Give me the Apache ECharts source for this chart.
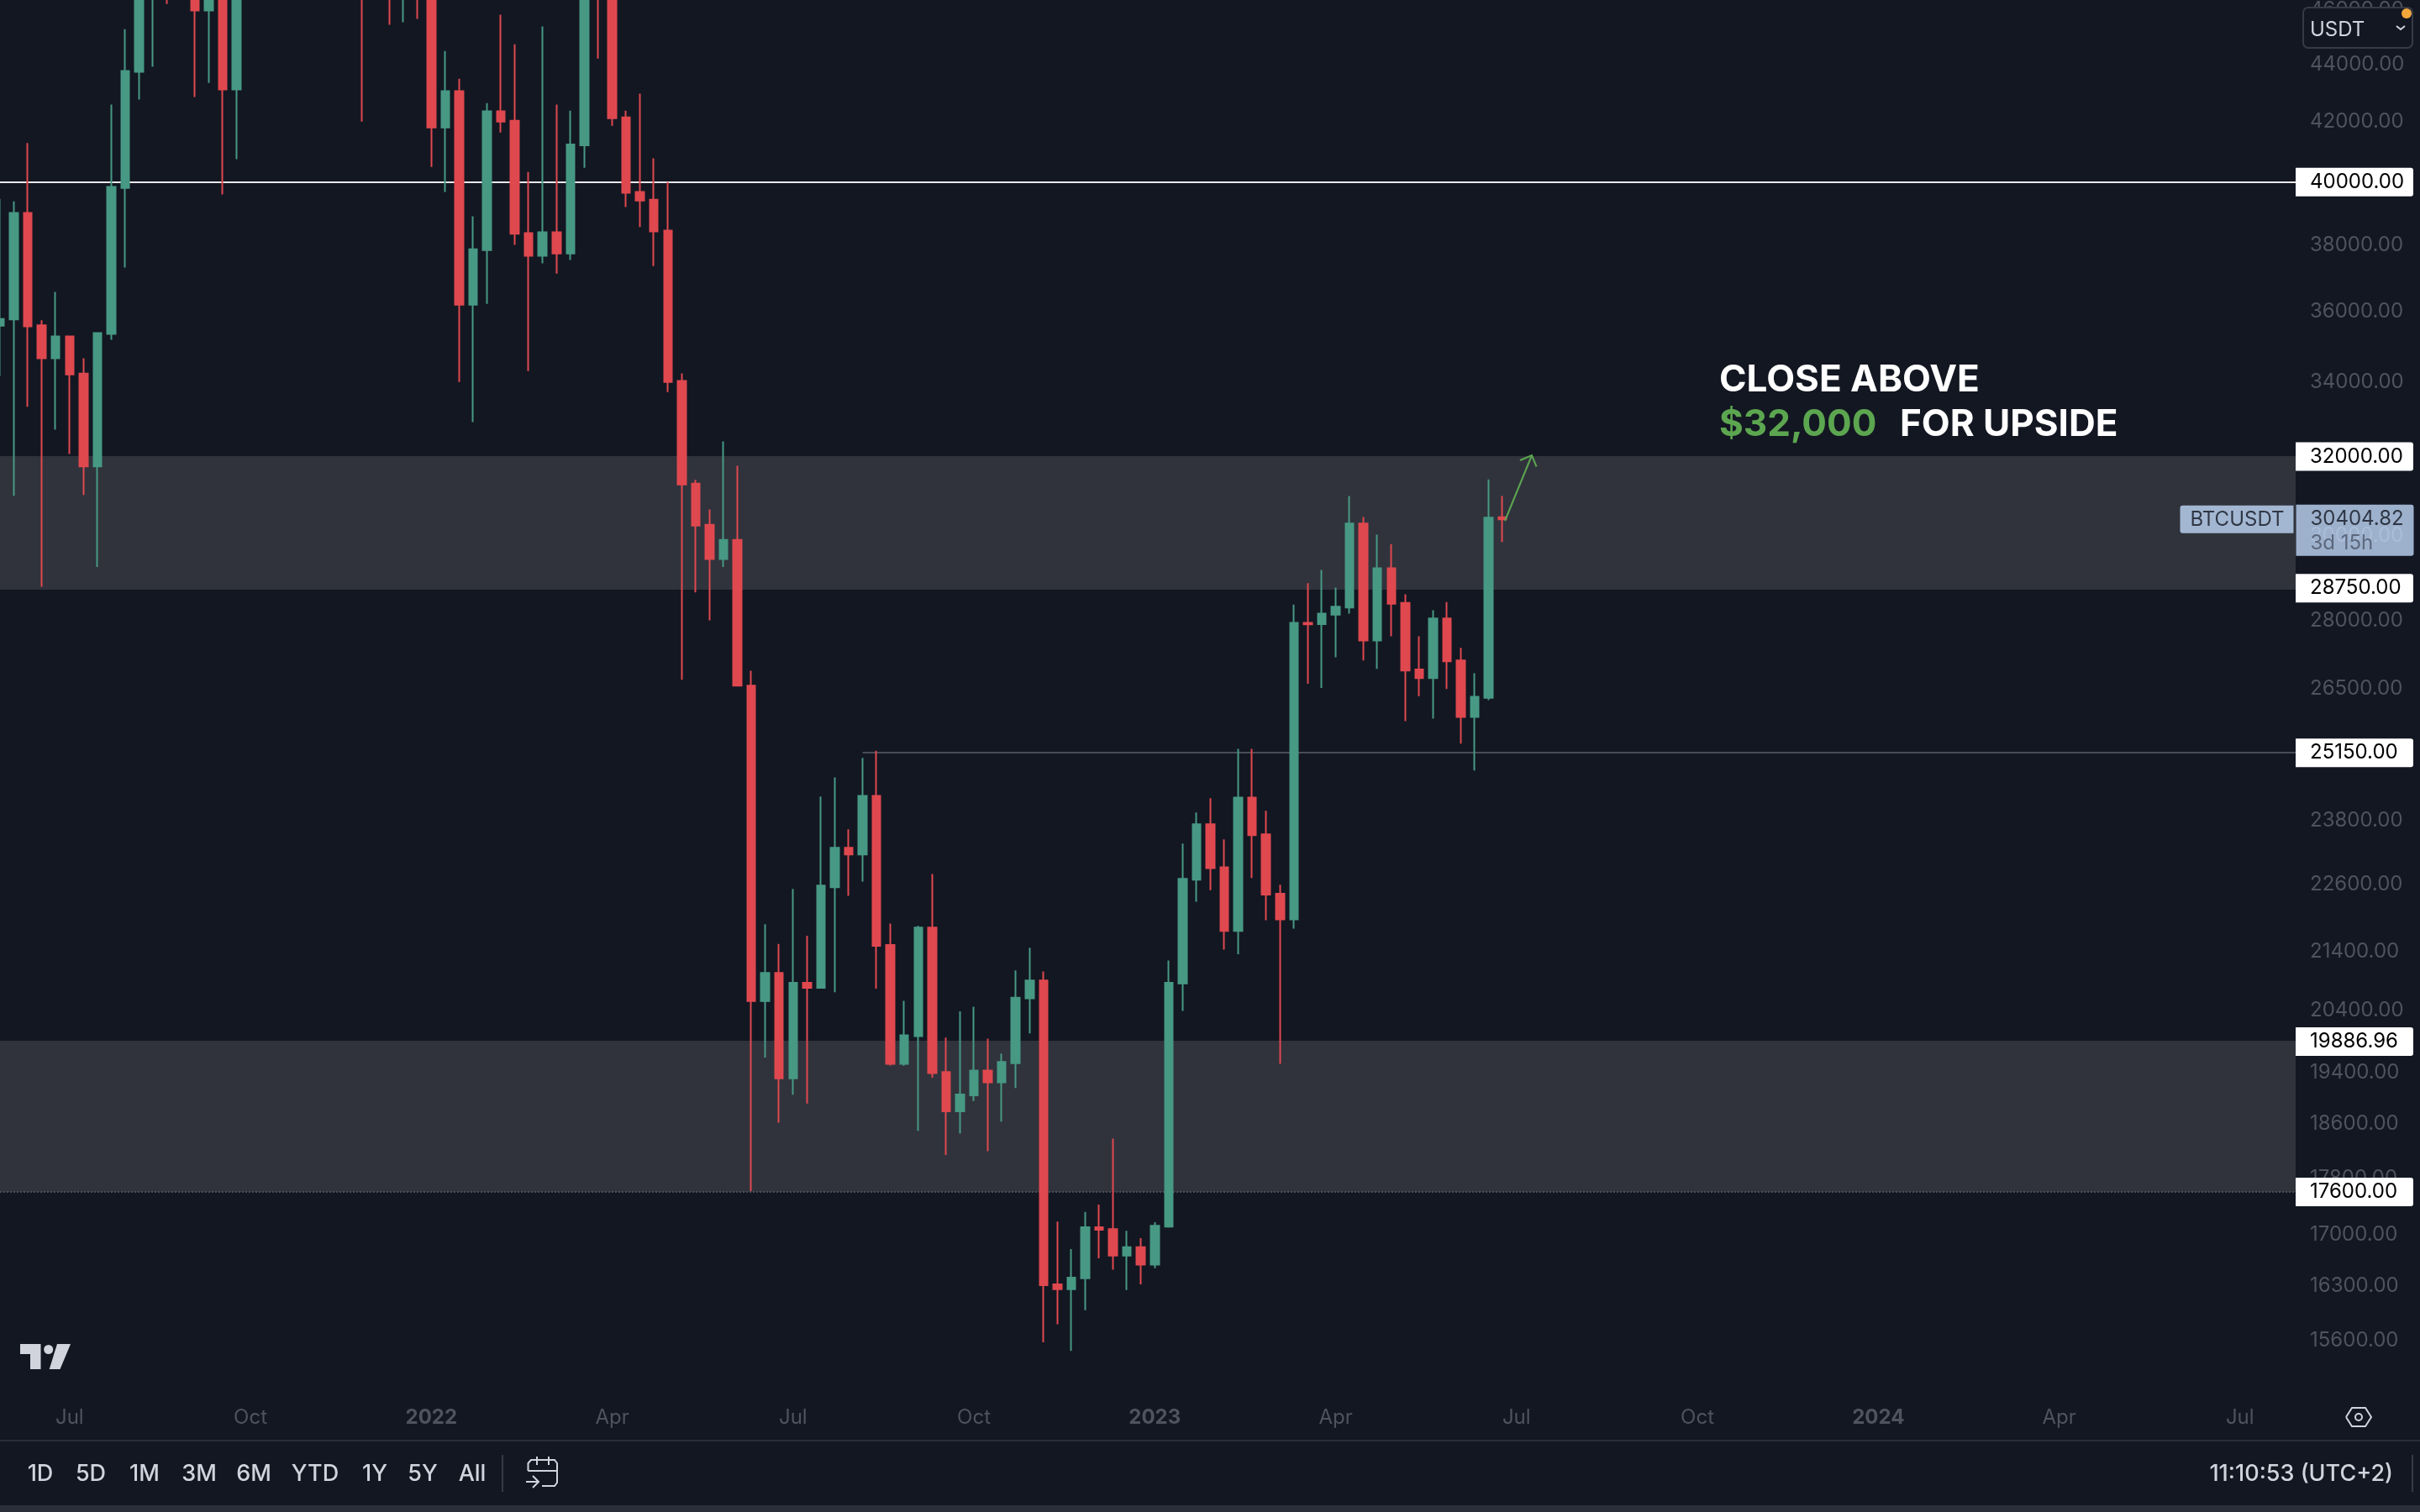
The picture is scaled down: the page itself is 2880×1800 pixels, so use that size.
<!DOCTYPE html>
<html>
<head>
<meta charset="utf-8">
<title>BTCUSDT</title>
<script src="https://cdn.jsdelivr.net/npm/echarts@6/dist/echarts.min.js"></script>
<style>
    html, body { margin: 0; padding: 0; background: #131722; }
    #main { width: 2880px; height: 1800px; }
</style>
</head>
<body>
<div id="main"></div>
<script>
// weekly candles, first one is the week of 2021-05-31
var opens = [35589, 35772, 39004, 35599, 34658, 35278, 34232, 31740, 35352, 39810,
    43745, 47000, 48900, 47100, 49900, 45985, 48300, 43122, 48200, 54900,
    60800, 61300, 61000, 65500, 64400, 59000, 57200, 49400, 50100, 46700,
    50800, 47300, 41813, 43063, 36203, 37845, 42364, 42045, 38375, 37670,
    38400, 37745, 41210, 46800, 46500, 42160, 39680, 39425, 38450, 34025,
    31300, 30270, 29440, 29900, 26560, 20553, 21030, 19300, 20860, 20775,
    22545, 23280, 23155, 24285, 21510, 19530, 19975, 21820, 19400, 18790,
    19035, 19425, 19240, 19540, 20600, 20900, 16325, 16260, 16405, 17100,
    17075, 16710, 16825, 16590, 17110, 20850, 22685, 23730, 22915, 21760,
    24250, 23535, 22425, 21965, 27950, 27925, 28140, 28300, 30300, 27555,
    29220, 28410, 26910, 26725, 28050, 27110, 25895, 26300, 30460];
var closes = [35787, 39004, 35574, 34658, 35278, 34209, 31740, 35376, 39838, 43775,
    46700, 48900, 47100, 49900, 45982, 48300, 43122, 48200, 54900, 60800,
    61300, 61000, 65500, 64400, 59000, 57200, 49400, 50100, 46700, 50800,
    47300, 41813, 43063, 36203, 37870, 42364, 42016, 38350, 37670, 38400,
    37745, 41240, 46800, 46500, 42130, 39650, 39400, 38425, 34000, 31278,
    30250, 29440, 29900, 26560, 20553, 21030, 19300, 20860, 20775, 22575,
    23280, 23155, 24285, 21495, 19530, 19990, 21820, 19385, 18790, 19050,
    19425, 19240, 19560, 20610, 20900, 16314, 16260, 16415, 17100, 17065,
    16710, 16825, 16590, 17120, 20860, 22700, 23730, 22900, 21760, 24250,
    23520, 22410, 21965, 27952, 27920, 28160, 28320, 30300, 27555, 29220,
    28390, 26890, 26725, 28050, 27090, 25895, 26320, 30445, 30404.82];
var lows = [34163, 30991, 33318, 28786, 32708, 32065, 31012, 29250, 35186, 37311,
    42773, 43925, 46230, 46700, 42860, 43355, 39600, 40750, 47100, 53900,
    59500, 58000, 60000, 62300, 55600, 53500, 42016, 47300, 45450, 45550,
    45670, 40495, 39680, 34000, 32907, 36228, 41640, 38010, 34300, 37440,
    37130, 37545, 40465, 44220, 41870, 39190, 38560, 37360, 33720, 26690,
    28650, 28010, 29250, 26550, 17610, 19630, 18620, 19047, 18910, 20760,
    20700, 22390, 22650, 20760, 19505, 19500, 18495, 19310, 18135, 18455,
    18950, 18190, 18635, 19150, 20020, 15574, 15805, 15465, 15985, 16675,
    16520, 16250, 16325, 16540, 17095, 20390, 22280, 22490, 21430, 21350,
    22715, 21950, 19530, 21800, 26600, 26510, 27180, 28160, 27110, 26925,
    27650, 25805, 26335, 25860, 26490, 25340, 24790, 26250, 29850];
var highs = [39453, 39373, 41291, 35747, 36578, 35300, 34658, 35376, 42599, 45293,
    48200, 50500, 50500, 52900, 52900, 48800, 48500, 49200, 55800, 62900,
    67000, 63700, 67800, 69000, 66300, 59500, 59100, 51000, 50200, 51800,
    52000, 47600, 44497, 43500, 38900, 42650, 45825, 44735, 40330, 45390,
    42600, 42390, 47400, 48200, 47500, 42390, 42975, 40780, 40000, 34235,
    31400, 30650, 32395, 31760, 26885, 21877, 21530, 22515, 21675, 24270,
    24650, 23635, 25045, 25190, 21890, 20555, 21850, 22790, 19950, 20380,
    20460, 19935, 19695, 21070, 21465, 21055, 17180, 16800, 17315, 17420,
    18380, 17050, 16950, 17170, 21240, 23360, 23960, 24240, 23440, 25230,
    25230, 23990, 22590, 28370, 28866, 29180, 28766, 30990, 30465, 30030,
    29800, 28610, 27650, 28240, 28430, 27390, 26830, 31410, 30990];

var xTickWeeks = ['2021-07-05', '2021-10-04', '2022-01-03', '2022-04-04', '2022-07-04', '2022-10-03',
    '2023-01-02', '2023-04-03', '2023-07-03', '2023-10-02', '2024-01-01', '2024-04-01', '2024-07-01'];
var xTickLabels = ['Jul', 'Oct', '2022', 'Apr', 'Jul', 'Oct', '2023', 'Apr', 'Jul', 'Oct', '2024', 'Apr', 'Jul'];
var yTicks = [46000, 44000, 42000, 40000, 38000, 36000, 34000, 32000, 30000, 28000, 26500, 25000,
    23800, 22600, 21400, 20400, 19400, 18600, 17800, 17000, 16300, 15600];

var zones = [[28750, 32000], [17600, 19886.96]];
var lastPrice = 30404.82;
var countdown = '3d 15h';
var symbolName = 'BTCUSDT';
var rangeButtons = ['1D', '5D', '1M', '3M', '6M', 'YTD', '1Y', '5Y', 'All'];
var rangeButtonsX = [48, 108, 172, 237, 302, 375, 446, 503, 562];

var WEEKS = 166;
var weeks = [];
for (var i = 0; i < WEEKS; i++) {
    weeks.push(new Date(Date.UTC(2021, 4, 31) + i * 7 * 24 * 3600 * 1000).toISOString().slice(0, 10));
}
var candles = opens.map(function(o, i) {
    return [o, closes[i], lows[i], highs[i]];
});

var FONT = 'Inter';
var BG = '#131722';
var BAND = '#30333c';
var GREY_LINE = '#4a4d57';
var TICK = '#50535e';
var LIGHT = '#d1d4dc';
var ICON = { stroke: LIGHT, lineWidth: 2, fill: null };

function tag(value, lineColor, extra) {
    var item = {
        yAxis: value,
        lineStyle: { color: lineColor, width: 2, type: 'solid' }
    };
    if (extra) {
        return [Object.assign({ coord: [extra.from, value], lineStyle: item.lineStyle }, {}),
                { coord: [WEEKS - 1, value] }];
    }
    return item;
}

function polyline(points, style) {
    return { type: 'polyline', silent: true, shape: { points: points }, style: style || ICON };
}

function text(x, y, str, opts) {
    return {
        type: 'text', silent: true, x: x, y: y,
        style: Object.assign({
            text: str, font: '500 27px ' + FONT, fill: LIGHT, textVerticalAlign: 'middle'
        }, opts || {})
    };
}

var graphics = [
    // toolbar
    { type: 'rect', silent: true, shape: { x: 0, y: 1714, width: 2880, height: 2 }, style: { fill: '#2a2e39' } },
    { type: 'rect', silent: true, shape: { x: 0, y: 1792, width: 2880, height: 8 }, style: { fill: '#2a2e39' } },
    { type: 'rect', silent: true, shape: { x: 597, y: 1732, width: 2, height: 44 }, style: { fill: '#363a45' } },
    { type: 'rect', silent: true, shape: { x: 2870, y: 1732, width: 2, height: 44 }, style: { fill: '#363a45' } },
    text(2848, 1755, '11:10:53 (UTC+2)', { textAlign: 'right' }),
    // calendar icon
    polyline([[628.5, 1751], [628.5, 1742], [632, 1738], [660, 1738], [663, 1742], [663, 1765], [660, 1769], [645, 1769]]),
    polyline([[628.5, 1751], [663, 1751]]),
    polyline([[639, 1734], [639, 1744]]),
    polyline([[653, 1734], [653, 1744]]),
    polyline([[626, 1764], [640, 1764]]),
    polyline([[634, 1757], [641, 1764], [634, 1771]]),
    // settings icon
    polyline([[2792, 1687], [2799, 1676], [2815, 1676], [2822, 1687], [2815, 1698], [2799, 1698], [2792, 1687]], { stroke: LIGHT, lineWidth: 2, fill: null }),
    { type: 'circle', silent: true, shape: { cx: 2807, cy: 1687, r: 4 }, style: { stroke: LIGHT, lineWidth: 2, fill: null } },
    // logo
    { type: 'polygon', silent: true, shape: { points: [[24, 1600], [48.5, 1600], [48.5, 1630], [36, 1630], [36, 1612], [24, 1612]] }, style: { fill: LIGHT } },
    { type: 'circle', silent: true, shape: { cx: 57.7, cy: 1606.5, r: 5.5 }, style: { fill: LIGHT } },
    { type: 'polygon', silent: true, shape: { points: [[68, 1600], [84, 1600], [71.5, 1630], [58.7, 1630]] }, style: { fill: LIGHT } },
    // annotation
    text(2046, 453, 'CLOSE ABOVE', { font: '700 44px ' + FONT, fill: '#ffffff' }),
    text(2046, 506, '$32,000', { font: '700 44px ' + FONT, fill: '#5ca650' }),
    text(2261, 506, 'FOR UPSIDE', { font: '700 44px ' + FONT, fill: '#ffffff' }),
    polyline([[1791, 620], [1823, 542]], { stroke: '#5ca650', lineWidth: 2, fill: null }),
    polyline([[1809, 548], [1823, 542], [1828.5, 555.5]], { stroke: '#5ca650', lineWidth: 2, fill: null }),
    // currency box
    { type: 'rect', silent: true, shape: { x: 2741, y: 9, width: 130, height: 48, r: 6 }, style: { fill: BG, stroke: '#363a45', lineWidth: 2 } },
    text(2749, 36, 'USDT', { font: '400 24px ' + FONT }),
    polyline([[2852, 31], [2857, 35], [2862, 31]]),
    { type: 'circle', silent: true, shape: { cx: 2864, cy: 16, r: 6 }, style: { fill: '#f2a73b' } }
];
rangeButtons.forEach(function(b, i) {
    graphics.push(text(rangeButtonsX[i], 1755, b, { textAlign: 'center' }));
});
graphics.forEach(function(g) { g.z = 20; });

var myChart = echarts.init(document.getElementById('main'), null, { renderer: 'canvas' });

var option = {
    backgroundColor: BG,
    animation: false,
    grid: { left: 0, top: 0, width: 2732, height: 1660 },
    xAxis: {
        type: 'category',
        data: weeks,
        boundaryGap: false,
        axisLine: { show: false },
        axisTick: { show: false },
        splitLine: { show: false },
        axisLabel: {
            margin: 16,
            interval: function(index, value) {
                return xTickWeeks.indexOf(value) >= 0;
            },
            formatter: function(value) {
                var label = xTickLabels[xTickWeeks.indexOf(value)];
                return /^\d+$/.test(label) ? '{b|' + label + '}' : label;
            },
            color: TICK,
            fontFamily: FONT,
            fontSize: 24,
            rich: { b: { fontWeight: 700, fontSize: 24, fontFamily: FONT, color: TICK } }
        }
    },
    yAxis: {
        type: 'log',
        logBase: 10,
        position: 'right',
        min: 14928,
        max: 46354,
        axisLine: { show: false },
        axisTick: { show: false },
        splitLine: { show: false },
        minorTick: { show: false },
        axisLabel: {
            margin: 17,
            customValues: yTicks,
            formatter: function(v) { return Number(v).toFixed(2); },
            color: TICK,
            fontFamily: FONT,
            fontSize: 24
        }
    },
    graphic: graphics,
    series: [{
        type: 'candlestick',
        name: symbolName,
        z: 3,
        barWidth: 10,
        data: candles,
        itemStyle: {
            color: '#479984',
            color0: '#e0484f',
            borderColor: '#479984',
            borderColor0: '#e0484f',
            borderWidth: 2
        },
        markArea: {
            silent: true,
            z: 1,
            itemStyle: { color: BAND },
            data: zones.map(function(z) {
                return [{ yAxis: z[0] }, { yAxis: z[1] }];
            })
        },
        markLine: {
            silent: true,
            z: 2,
            symbol: 'none',
            precision: 2,
            label: {
                show: true,
                position: 'end',
                distance: 0,
                formatter: function(p) { return Number(p.value).toFixed(2); },
                color: '#000000',
                backgroundColor: '#ffffff',
                fontFamily: FONT,
                fontSize: 24,
                width: 110,
                lineHeight: 34,
                padding: [0, 13, 0, 17],
                borderRadius: [0, 3, 3, 0]
            },
            data: [
                tag(40000, '#e8e8e8'),
                tag(32000, BAND),
                tag(28750, BAND),
                [
                    { coord: [weeks[62], 25150], value: 25150, lineStyle: { color: GREY_LINE, width: 2, type: 'solid' } },
                    { coord: [weeks[WEEKS - 1], 25150], value: 25150 }
                ],
                tag(19886.96, BAND),
                { yAxis: 17600, lineStyle: { color: GREY_LINE, width: 2, type: 'dotted' } }
            ]
        }
    }, {
        // last price tags on the scale
        type: 'scatter',
        z: 6,
        silent: true,
        symbolSize: 1,
        itemStyle: { color: 'transparent' },
        data: [[weeks[WEEKS - 1], lastPrice]],
        label: {
            show: true,
            position: 'right',
            distance: 0,
            offset: [0, 13],
            formatter: '{p|' + lastPrice.toFixed(2) + '}\n{t|' + countdown + '}',
            backgroundColor: '#c1d8f7',
            padding: [2, 13, 2, 17],
            borderRadius: [0, 3, 3, 0],
            rich: {
                p: { color: '#131722', fontFamily: FONT, fontSize: 24, width: 110, lineHeight: 30 },
                t: { color: '#4c5568', fontFamily: FONT, fontSize: 24, width: 110, lineHeight: 27 }
            }
        }
    }, {
        type: 'scatter',
        z: 6,
        silent: true,
        symbolSize: 1,
        itemStyle: { color: 'transparent' },
        data: [[weeks[WEEKS - 1], lastPrice]],
        label: {
            show: true,
            position: 'left',
            distance: 2,
            formatter: symbolName,
            color: '#131722',
            fontFamily: FONT,
            fontSize: 24,
            lineHeight: 33,
            backgroundColor: '#c1d8f7',
            padding: [0, 11, 0, 12],
            borderRadius: [3, 0, 0, 3]
        }
    }]
};

myChart.setOption(option);
</script>
</body>
</html>
